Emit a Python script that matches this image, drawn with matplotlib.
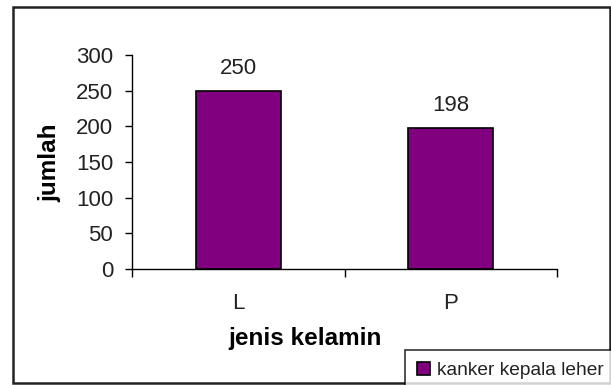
import matplotlib
matplotlib.use('Agg')
import matplotlib.pyplot as plt
from matplotlib.patches import Rectangle

categories = ['L', 'P']
counts = [250, 198]
series_name = 'kanker kepala leher'
yticks = [0, 50, 100, 150, 200, 250, 300]

plt.rcParams['font.family'] = ['Liberation Sans', 'DejaVu Sans']

W, H = 611, 385
fig = plt.figure(figsize=(W / 100, H / 100), dpi=100)
ax = fig.add_axes([132 / W, 1 - 269 / H, 425 / W, 214 / H])

bar_color = '#800080'
x = list(range(len(categories)))
bars = ax.bar(x, counts, width=0.4, color=bar_color, edgecolor='black',
              linewidth=1.2, label=series_name)

for xi, v in zip(x, counts):
    ax.annotate(str(v), (xi, v), xytext=(0, 12), textcoords='offset points',
                ha='center', va='baseline', fontsize=16, color='#222222')

ax.set_xlim(-0.5, len(categories) - 0.5)
ax.set_ylim(0, 300)
ax.set_yticks(yticks)
ax.tick_params(axis='y', direction='out', length=5, width=1, labelsize=16,
               pad=8.5, labelcolor='#222222')

# category labels sit between the boundary ticks
ax.set_xticks(x)
ax.set_xticklabels(categories, fontsize=16, color='#222222')
ax.tick_params(axis='x', which='major', length=0, pad=17)
ax.set_xticks([i - 0.5 for i in range(len(categories) + 1)], minor=True)
ax.tick_params(axis='x', which='minor', direction='out', length=6, width=1)

for s in ['top', 'right']:
    ax.spines[s].set_visible(False)
for s in ['left', 'bottom']:
    ax.spines[s].set_linewidth(1.0)

ax.set_ylabel('jumlah', fontsize=17.5, fontweight='bold', va='center')
ax.yaxis.set_label_coords(-0.193, 0.495)
ax.set_xlabel('jenis kelamin', fontsize=17.5, fontweight='bold', va='center')
ax.xaxis.set_label_coords(0.408, -0.327)

# outer chart frame
fig.patches.append(Rectangle((13 / W, 2 / H), 597 / W, 376 / H,
                             transform=fig.transFigure, fill=False,
                             edgecolor='#222222', linewidth=1.8))

# legend box runs off the bottom edge of the figure
leg = fig.legend(handles=[bars], labels=[series_name], loc='upper left',
                 bbox_to_anchor=(405 / W, 1 - 350 / H), frameon=True,
                 fancybox=False, fontsize=13.8, handlelength=0.68,
                 handleheight=0.68, handletextpad=0.37, borderpad=0.62,
                 borderaxespad=0.0)
leg.get_frame().set_edgecolor('black')
leg.get_frame().set_linewidth(1.2)
for t in leg.get_texts():
    t.set_color('#222222')

fig.savefig('out.png', dpi=100)
